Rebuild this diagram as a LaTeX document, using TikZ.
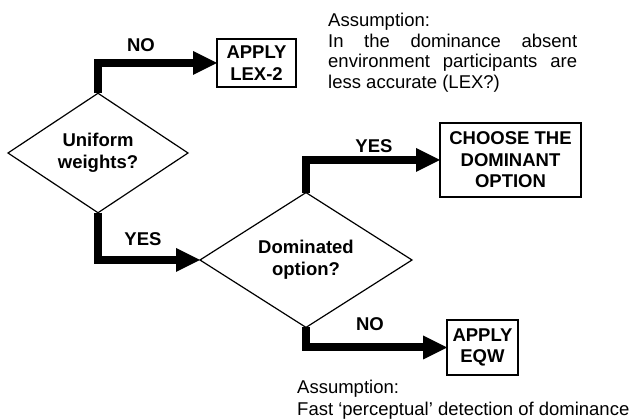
\documentclass[tikz,border=0pt]{standalone}
\usepackage{fontspec}
\setmainfont{Liberation Sans}
\usetikzlibrary{shapes.geometric,arrows.meta}
\begin{document}
\begin{tikzpicture}[x=1pt,y=-1pt,
  txt/.style={font=\fontsize{18.5}{21}\selectfont},
  lbl/.style={font=\fontsize{18.5}{21}\selectfont\bfseries, inner sep=0pt},
  decision/.style={diamond, draw, line width=1.2pt, inner sep=0pt, outer sep=0pt,
    align=center, font=\fontsize{18.5}{22}\selectfont\bfseries},
  action/.style={rectangle, draw, line width=1.8pt, inner sep=0pt, outer sep=0pt,
    align=center, font=\fontsize{18.5}{21.5}\selectfont\bfseries},
  flow/.style={line width=8pt, line join=miter,
    -{Triangle[length=24pt,width=24pt,line width=0pt]}}]
\useasboundingbox (0,0) rectangle (632,419);

\node[decision, minimum width=180pt, minimum height=103pt] (d1) at (98,153) {Uniform\\weights?};
\node[decision, minimum width=212pt, minimum height=106pt] (d2) at (306,260) {Dominated\\option?};

\node[action, minimum width=79pt, minimum height=48pt] (b1) at (256.5,63) {APPLY\\LEX-2};
\node[action, minimum width=141pt, minimum height=74pt] (b2) at (510.5,160) {CHOOSE THE\\DOMINANT\\OPTION};
\node[action, minimum width=71pt, minimum height=55pt] (b3) at (482.5,347.5) {APPLY\\EQW};

\draw[flow] (d1.north) |- (b1.west);
\draw[flow] (d1.south) |- (d2.west);
\draw[flow] (d2.north) |- (b2.west);
\draw[flow] (d2.south) |- (b3.west);

\node[lbl] (no1) at (141,45) {NO};
\node[lbl] (yes1) at (143,239) {YES};
\node[lbl] (yes2) at (374,146) {YES};
\node[lbl] (no2) at (370,324) {NO};

\node[anchor=north west, inner sep=0pt, align=left,
  font=\fontsize{18.5}{20.5}\selectfont] (note1) at (328,13)
  {Assumption:\\
   \hbox to 249pt{In\hfill the\hfill dominance\hfill absent}\\
   \hbox to 249pt{environment\hfill participants\hfill are}\\
   less accurate (LEX?)};

\node[anchor=north west, inner sep=0pt, align=left,
  font=\fontsize{18.5}{21.5}\selectfont] (note2) at (297,380)
  {Assumption:\\
   Fast ‘perceptual’ detection of dominance};
\end{tikzpicture}
\end{document}
